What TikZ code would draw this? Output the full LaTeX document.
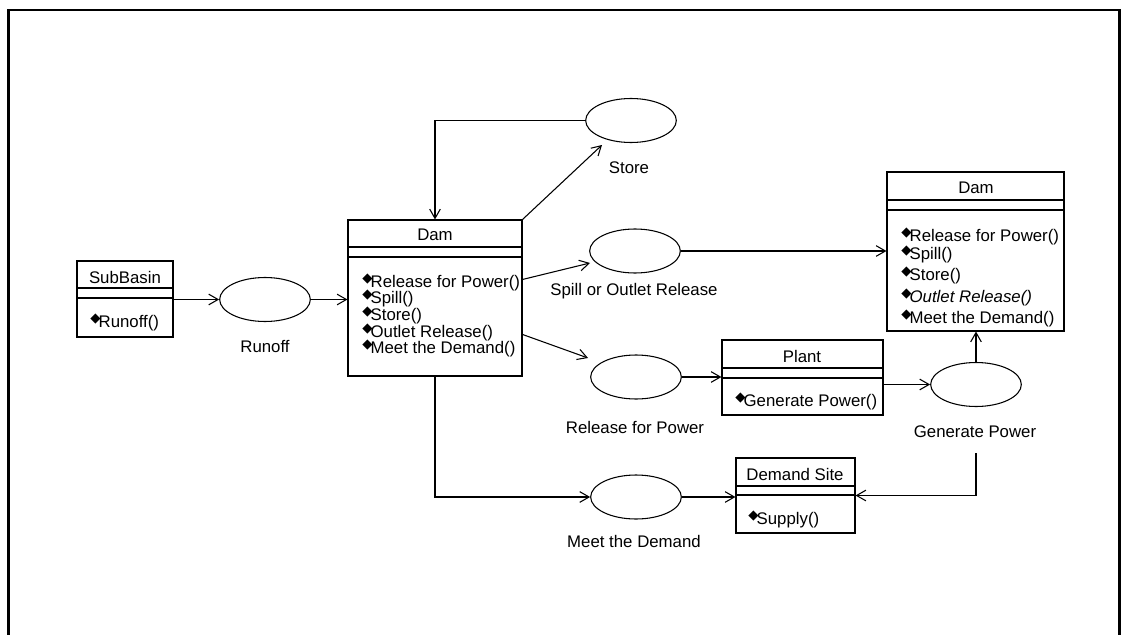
\documentclass[tikz,border=0pt]{standalone}
\usepackage{fontspec}
\setmainfont{Liberation Sans}
\newfontfamily\symf{DejaVu Sans}
\usetikzlibrary{arrows.meta,shapes.geometric,fit,calc}
\newcommand{\dia}{{\symf\fontsize{10}{10}\selectfont\raisebox{3.2pt}{◆}}\hspace{-1.4pt}}
\begin{document}
\begin{tikzpicture}[x=0.75pt,y=-0.75pt,
  font=\fontsize{12.6}{14}\selectfont,
  ln/.style={line width=0.8pt},
  cls/.style={draw, line width=0.8pt, inner sep=0pt},
  uc/.style={draw, ellipse, line width=0.8pt, inner sep=0pt, minimum width=68pt, minimum height=33pt},
  arr/.style={ln, -{Straight Barb[length=7pt,width=8pt]}},
  txt/.style={inner sep=0pt, anchor=base},
  op/.style={inner sep=0pt, anchor=base west},
]
\useasboundingbox (0,0) rectangle (1121,635);
\draw[line width=2.2pt] (8.5,635) -- (8.5,10) -- (1119.5,10) -- (1119.5,635);

% SubBasin
\node[cls, fit={(77,261)(173,337)}] (sub) {};
\draw[ln] (77,288) -- (173,288) (77,298) -- (173,298);
\node[txt] (subt) at (125,283) {SubBasin};
\node[op] (subo) at (90,327) {\dia Runoff()};

% Dam 1
\node[cls, fit={(348,220)(522,376)}] (dam) {};
\draw[ln] (348,247) -- (522,247) (348,257) -- (522,257);
\node[txt] (damt) at (435,240) {Dam};
\node[op] (damo1) at (362,287) {\dia Release for Power()};
\node[op] (damo2) at (362,303) {\dia Spill()};
\node[op] (damo3) at (362,320) {\dia Store()};
\node[op] (damo4) at (362,337) {\dia Outlet Release()};
\node[op] (damo5) at (362,353) {\dia Meet the Demand()};

% Dam 2
\node[cls, fit={(887,172)(1064,331)}] (dam2) {};
\draw[ln] (887,200) -- (1064,200) (887,210) -- (1064,210);
\node[txt] (dam2t) at (976,193) {Dam};
\node[op] (dam2o1) at (901,241) {\dia Release for Power()};
\node[op] (dam2o2) at (901,259) {\dia Spill()};
\node[op] (dam2o3) at (901,280) {\dia Store()};
\node[op] (dam2o4) at (901,302) {\dia \textit{Outlet Release()}};
\node[op] (dam2o5) at (901,323) {\dia Meet the Demand()};

% Plant
\node[cls, fit={(722,340)(883,415)}] (plant) {};
\draw[ln] (722,368) -- (883,368) (722,378) -- (883,378);
\node[txt] (plantt) at (802,362) {Plant};
\node[op] (planto) at (735,406) {\dia Generate Power()};

% Demand Site
\node[cls, fit={(736,458)(855,533)}] (dem) {};
\draw[ln] (736,486) -- (855,486) (736,495) -- (855,495);
\node[txt] (demt) at (795,480) {Demand Site};
\node[op] (demo) at (748,524) {\dia Supply()};

% use cases
\node[uc] (runoff) at (265,299.5) {};
\node[txt] (runoffl) at (265,352) {Runoff};
\node[uc] (store) at (631,120.5) {};
\node[txt] (storel) at (629,173) {Store};
\node[uc] (spill) at (635,251) {};
\node[txt] (spilll) at (634,295) {Spill or Outlet Release};
\node[uc] (relp) at (636,377) {};
\node[txt] (relpl) at (635,433) {Release for Power};
\node[uc] (meet) at (636,497) {};
\node[txt] (meetl) at (634,547) {Meet the Demand};
\node[uc] (gen) at (976,384.5) {};
\node[txt] (genl) at (975,437) {Generate Power};
\coordinate (genout) at (976,453);

% connectors
\draw[arr] (sub.east |- runoff.west) -- (runoff.west);
\draw[arr] (runoff.east) -- (dam.west |- runoff.east);
\draw[arr] (store.west) -| (dam.north);
\draw[arr] (dam.north east) -- ($(store.center)+(-29,24.5)$);
\draw[arr] ($(dam.north east)+(0,60)$) -- ($(spill.center)+(-45,12)$);
\draw[arr] (spill.east) -- (dam2.west |- spill.east);
\draw[arr] ($(dam.north east)+(0,115)$) -- ($(relp.center)+(-48,-19)$);
\draw[arr] (relp.east) -- (plant.west |- relp.east);
\draw[arr] (plant.east |- gen.west) -- (gen.west);
\draw[arr] (gen.north) -- (dam2.south -| gen.north);
\draw[arr] (dam.south) |- (meet.west);
\draw[arr] (meet.east) -- (dem.west |- meet.east);
\draw[arr] (genout) |- (dem.east);
\end{tikzpicture}
\end{document}
